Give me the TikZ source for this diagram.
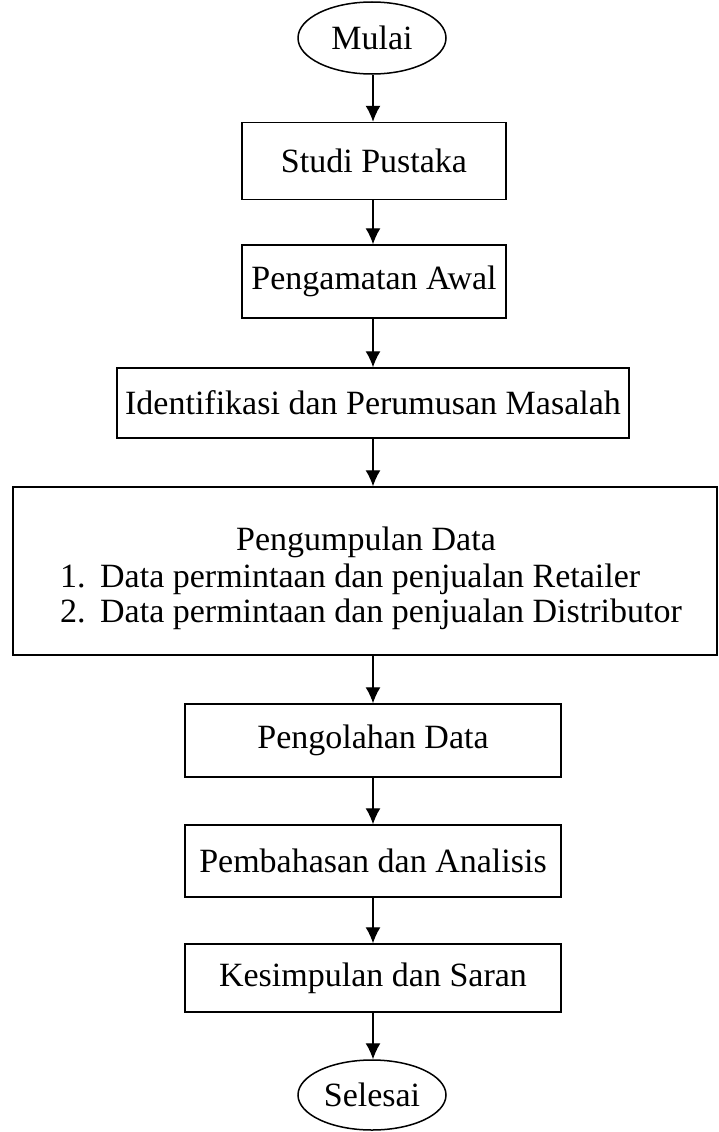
\documentclass[tikz,border=0pt]{standalone}
\usepackage{fontspec}
\setmainfont{Liberation Serif}
\usetikzlibrary{arrows.meta,shapes.geometric}

\begin{document}
\begin{tikzpicture}[x=1pt,y=-1pt]
\tikzset{box/.style = {shape=rectangle,draw,line width=1.5pt,inner sep=0pt,font=\fontsize{34}{37}\selectfont}}
\tikzset{term/.style = {shape=ellipse,draw,line width=1.5pt,inner sep=0pt,font=\fontsize{34}{37}\selectfont}}
\tikzset{txt/.style = {inner sep=0pt,font=\fontsize{34}{37}\selectfont}}
\tikzset{edge/.style = {-{Latex[length=16pt,width=15pt]},line width=1.3pt}}

\useasboundingbox (0,0) rectangle (718,1132);
\coordinate (spine) at (373,0);

% steps

\node[term,minimum width=148pt,minimum height=72pt] (mulai) at (372,38) {Mulai};
\node[box,minimum width=264pt,minimum height=77pt] (studi) at (374,161) {Studi Pustaka};
\node[box,minimum width=264pt,minimum height=73pt] (pengamatan) at (374,281.5) {Pengamatan Awal};
\node[box,minimum width=512pt,minimum height=70pt] (identifikasi) at (373,403) {Identifikasi dan Perumusan Masalah};
\node[box,minimum width=704pt,minimum height=168pt] (pengumpulan) at (365,571) {};
\node[box,minimum width=376pt,minimum height=73pt] (pengolahan) at (373,740.5) {Pengolahan Data};
\node[box,minimum width=376pt,minimum height=72pt] (pembahasan) at (373,861) {Pembahasan dan Analisis};
\node[box,minimum width=376pt,minimum height=68pt] (kesimpulan) at (373,978) {Kesimpulan dan Saran};
\node[term,minimum width=148pt,minimum height=70pt] (selesai) at (372,1095) {Selesai};

% contents of the data box

\node[txt,anchor=base] (judul) at (366,550) {Pengumpulan Data};
\node[txt,anchor=base west] (data1) at (60,587) {\makebox[40pt][l]{1.}Data permintaan dan penjualan Retailer};
\node[txt,anchor=base west] (data2) at (60,622) {\makebox[40pt][l]{2.}Data permintaan dan penjualan Distributor};

% edges

\draw[edge] (mulai.south -| spine) -- (studi.north -| spine);
\draw[edge] (studi.south -| spine) -- (pengamatan.north -| spine);
\draw[edge] (pengamatan.south -| spine) -- (identifikasi.north -| spine);
\draw[edge] (identifikasi.south -| spine) -- (pengumpulan.north -| spine);
\draw[edge] (pengumpulan.south -| spine) -- (pengolahan.north -| spine);
\draw[edge] (pengolahan.south -| spine) -- (pembahasan.north -| spine);
\draw[edge] (pembahasan.south -| spine) -- (kesimpulan.north -| spine);
\draw[edge] (kesimpulan.south -| spine) -- (selesai.north -| spine);
\end{tikzpicture}
\end{document}
